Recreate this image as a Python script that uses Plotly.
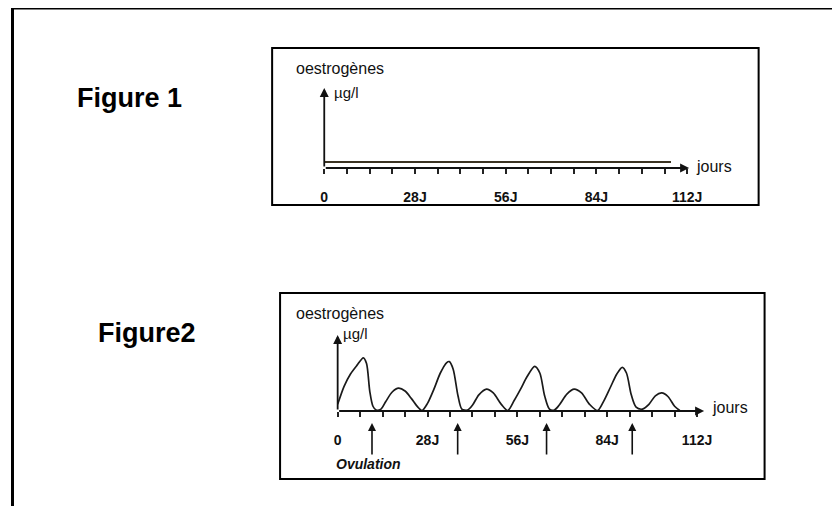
import plotly.graph_objects as go

# ---- data ----
tick_days = [0, 28, 56, 84, 112]
tick_labels = ["0", "28J", "56J", "84J", "112J"]

fig1_days = [0, 107]
fig1_oestrogen = [0.6, 0.6]

fig2_days = [0, 2, 4, 6, 8, 9, 10, 11, 12, 13.5, 15, 17, 19, 21, 23, 25, 26.3,
             28, 30, 32, 34, 34.8, 36, 37.5, 38.7, 40.5, 42, 44, 46.4, 48.5, 51, 53,
             55, 57, 59, 61.4, 63, 64.5, 66, 67.5, 69, 71.5, 73.7, 76, 78.5, 81,
             83, 85, 87, 88.7, 90, 91.5, 93, 95, 97, 99, 101, 103, 105, 106.6]
fig2_oestrogen = [0.7, 2.6, 3.9, 4.8, 5.6, 5.0, 2.1, 0.5, 0.1, 0.2, 1.0, 2.0, 2.4, 2.1, 1.3, 0.4, 0.05,
                  0.8, 2.3, 4.0, 5.1, 5.2, 4.4, 1.6, 0.2, 0.1, 0.6, 1.7, 2.3, 1.9, 0.7, 0.05,
                  1.1, 2.3, 3.6, 4.7, 4.0, 1.6, 0.2, 0.1, 0.6, 1.8, 2.3, 1.9, 0.7, 0.05,
                  1.1, 2.5, 3.9, 4.6, 4.0, 1.7, 0.4, 0.2, 0.7, 1.6, 1.9, 1.5, 0.5, 0.05]
ovulation_days = [10.7, 37.4, 65.1, 91.8]

W, H = 840, 506
OFF = 8  # page body margin


def px(x, y):
    return (x - OFF) / W, 1 - (y - OFF) / H


def pxx(x):
    return (x - OFF) / W


def pxy(y):
    return 1 - (y - OFF) / H


fig = go.Figure()
fig.add_trace(go.Scatter(x=fig1_days, y=fig1_oestrogen, mode="lines",
                         line=dict(color="#3b3322", width=1.8),
                         xaxis="x", yaxis="y", hoverinfo="skip", showlegend=False))
fig.add_trace(go.Scatter(x=fig2_days, y=fig2_oestrogen, mode="lines",
                         line=dict(color="#1a1a1a", width=1.7, shape="spline", smoothing=0.8),
                         xaxis="x2", yaxis="y2", hoverinfo="skip", showlegend=False))

tickfont = dict(family="Liberation Sans, Arial", size=14, color="#111")
common_x = dict(range=[0, 116], showgrid=False, zeroline=False, showline=False,
                tickmode="array", tickvals=tick_days, ticktext=["<b>%s</b>" % t for t in tick_labels],
                ticks="outside", ticklen=5, tickwidth=1.8, tickcolor="#222",
                minor=dict(dtick=7, tick0=0, ticks="outside", ticklen=5, tickwidth=1.8,
                           tickcolor="#222", showgrid=False),
                tickfont=tickfont, ticklabelstandoff=11, fixedrange=True)
common_y = dict(range=[0, 8], showgrid=False, zeroline=False, showline=False,
                showticklabels=False, ticks="", fixedrange=True)

fig.update_layout(
    width=W, height=H, margin=dict(l=0, r=0, t=0, b=0),
    paper_bgcolor="white", plot_bgcolor="rgba(0,0,0,0)",
    xaxis=dict(domain=[pxx(322.5), pxx(322.5 + 3.264 * 116)], anchor="y", **common_x),
    yaxis=dict(domain=[pxy(168), pxy(88)], anchor="x", **common_y),
    xaxis2=dict(domain=[pxx(336), pxx(336 + 3.232 * 116)], anchor="y2", **common_x),
    yaxis2=dict(domain=[pxy(411), pxy(335)], anchor="x2", **common_y),
)

shapes = []
# outer frame (top and left)
shapes.append(dict(type="line", xref="paper", yref="paper", x0=pxx(7), x1=1, y0=pxy(8), y1=pxy(8),
                   line=dict(color="black", width=3)))
shapes.append(dict(type="line", xref="paper", yref="paper", x0=pxx(8.5), x1=pxx(8.5), y0=0, y1=pxy(8),
                   line=dict(color="black", width=3)))
# boxes
for (l, t, r, b) in [(270, 48, 760, 205), (278, 293, 766, 479)]:
    shapes.append(dict(type="rect", xref="paper", yref="paper", x0=pxx(l), x1=pxx(r),
                       y0=pxy(b), y1=pxy(t), line=dict(color="black", width=2)))
fig.update_layout(shapes=shapes)

ann = []
# axis arrows
for xr, yr, xend in [("x", "y", 112.6), ("x2", "y2", 114.2)]:
    ann.append(dict(x=0, y=8, ax=0, ay=0, xref=xr, yref=yr, axref=xr, ayref=yr,
                    showarrow=True, arrowhead=2, arrowsize=1, arrowwidth=1.8,
                    arrowcolor="#111", text=""))
    ann.append(dict(x=xend, y=0, ax=0, ay=0, xref=xr, yref=yr, axref=xr, ayref=yr,
                    showarrow=True, arrowhead=2, arrowsize=1, arrowwidth=1.8,
                    arrowcolor="#111", text=""))
# ovulation arrows
for d in ovulation_days:
    ann.append(dict(x=d, y=pxy(423), ax=0, ay=33, xref="x2", yref="paper",
                    axref="pixel", ayref="pixel",
                    showarrow=True, arrowhead=2, arrowsize=1, arrowwidth=1.6,
                    arrowcolor="#111", text=""))

lab = dict(family="Liberation Sans, Arial", size=16, color="#111")
lab_small = dict(family="Liberation Sans, Arial", size=15, color="#111")


def text(x, y, s, font, xanchor="center"):
    a, b = px(x, y)
    ann.append(dict(x=a, y=b, xref="paper", yref="paper", text=s, showarrow=False,
                    xanchor=xanchor, yanchor="middle", font=font))


big = dict(family="Liberation Sans, Arial", size=27, color="black")
text(126.5, 98, "<b>Figure 1</b>", big)
text(144, 333, "<b>Figure2</b>", big)
text(338, 69, "oestrogènes", lab)
text(330, 92, "µg/l", lab_small, "left")
text(695, 166, "jours", lab, "left")
text(338, 313, "oestrogènes", lab)
text(339, 333, "µg/l", lab_small, "left")
text(711, 407, "jours", lab, "left")
text(367, 464, "<b><i>Ovulation</i></b>", dict(family="Liberation Sans, Arial", size=14, color="#111"))
fig.update_layout(annotations=ann)

fig.write_html("out.html")
